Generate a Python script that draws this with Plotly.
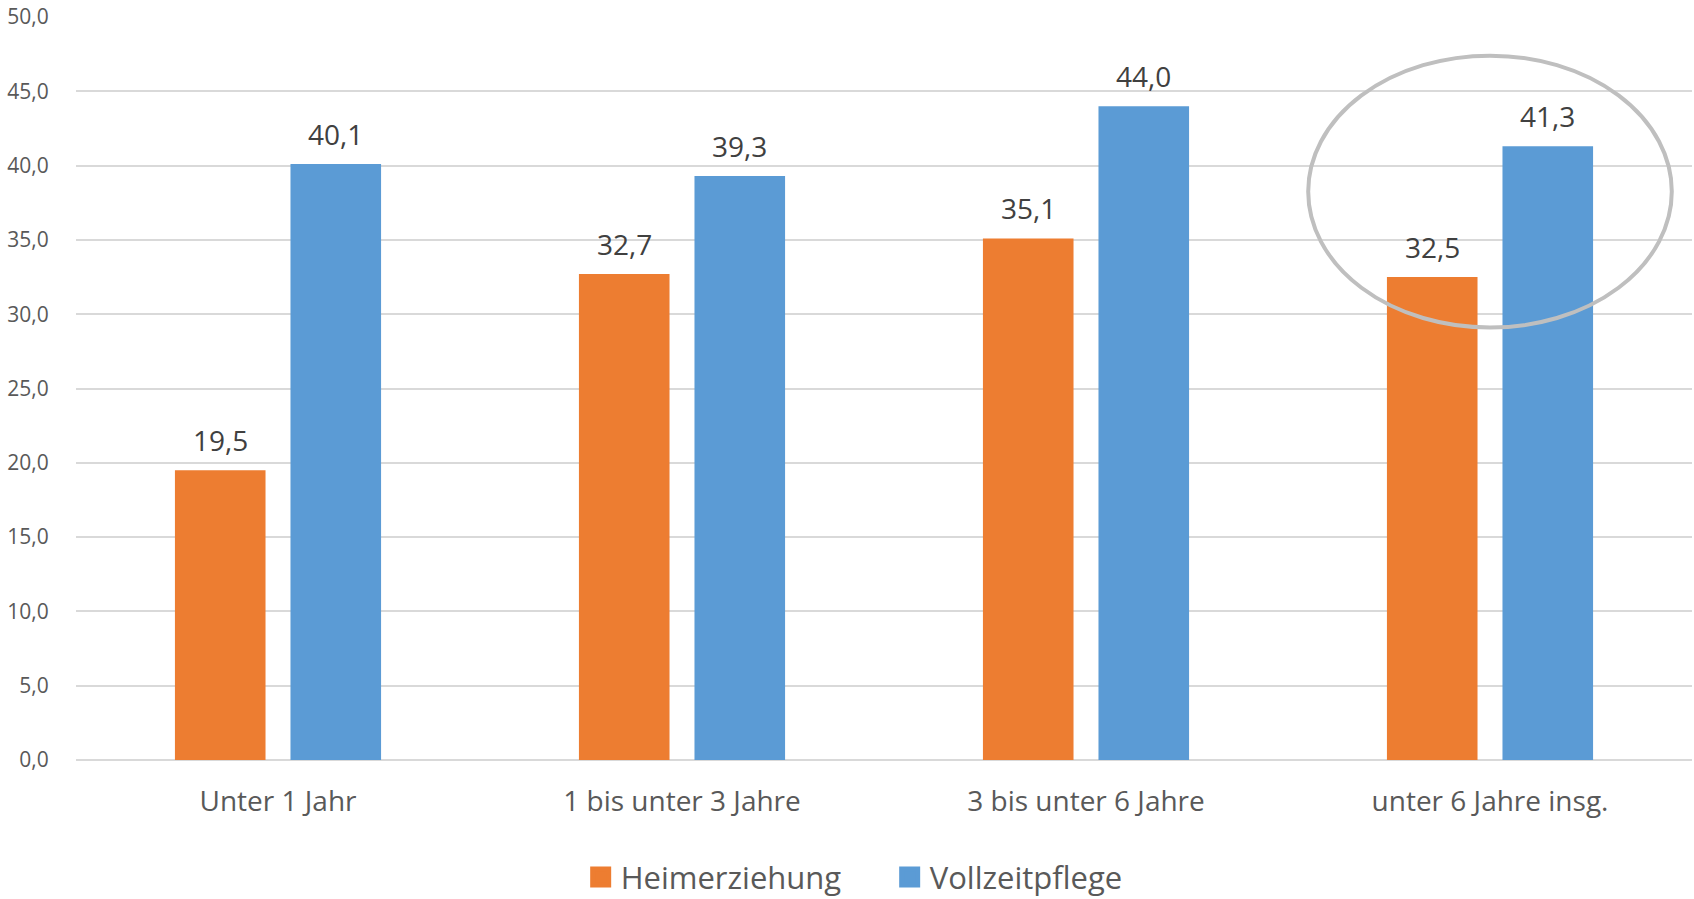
import plotly.graph_objects as go

categories = ["Unter 1 Jahr", "1 bis unter 3 Jahre", "3 bis unter 6 Jahre", "unter 6 Jahre insg."]
heim = [19.5, 32.7, 35.1, 32.5]
voll = [40.1, 39.3, 44.0, 41.3]
series_names = ["Heimerziehung", "Vollzeitpflege"]
colors = ["#ED7D31", "#5B9BD5"]
y_ticks = [0, 5, 10, 15, 20, 25, 30, 35, 40, 45, 50]

FONT = "Open Sans"
BARGAP = 0.428
GROUPGAP = 0.216
PLOT_W = 1694 - 76 - 2
slot_px = PLOT_W / 4 * (1 - BARGAP) / 2

fig = go.Figure()
for i, (name, vals, col) in enumerate(zip(series_names, [heim, voll], colors)):
    fig.add_trace(go.Bar(
        x=categories, y=vals, name=name, marker=dict(color=col, line=dict(width=0)),
        showlegend=False, hoverinfo="x+y",
    ))
    fig.add_trace(go.Scatter(
        x=[None], y=[None], mode="markers", name=name,
        marker=dict(symbol="square", size=16, color=col, line=dict(color=col, width=5)),
        showlegend=True,
    ))
    shift = (i - 0.5) * slot_px
    for c, v in zip(categories, vals):
        fig.add_annotation(x=c, y=v, xref="x", yref="y", text=f"{v:.1f}".replace(".", ","),
                           showarrow=False, xshift=shift, yshift=9, yanchor="bottom",
                           font=dict(family=FONT, size=28, color="#404040"))

fig.add_shape(type="circle", xref="x", yref="y", x0=2.55, x1=3.45, y0=29.1, y1=47.4,
              line=dict(color="#BFBFBF", width=4), layer="above")

fig.update_layout(
    width=1694, height=899,
    margin=dict(l=76, r=2, t=17, b=139, autoexpand=False),
    paper_bgcolor="white", plot_bgcolor="white",
    separators=",.",
    barmode="group", bargap=BARGAP, bargroupgap=GROUPGAP,
    font=dict(family=FONT, color="#595959"),
    legend=dict(orientation="h", x=0.3123, xanchor="left", y=-0.158, yanchor="middle",
                font=dict(family=FONT, size=31, color="#595959"), itemsizing="trace",
                traceorder="normal", entrywidth=264, entrywidthmode="pixels"),
    xaxis=dict(range=[-0.5, 3.5], showgrid=False, showline=False, ticks="outside", ticklen=16,
               tickcolor="rgba(0,0,0,0)", tickfont=dict(family=FONT, size=28, color="#595959")),
    yaxis=dict(range=[0, 50], tickvals=y_ticks, tickformat=".1f", showgrid=True,
               gridcolor="#D9D9D9", gridwidth=1.5, zeroline=True, zerolinecolor="#D9D9D9",
               zerolinewidth=1.5, showline=False, ticks="outside", ticklen=22,
               tickcolor="rgba(0,0,0,0)", tickfont=dict(family=FONT, size=21, color="#595959")),
)
fig.write_html("out.html")
